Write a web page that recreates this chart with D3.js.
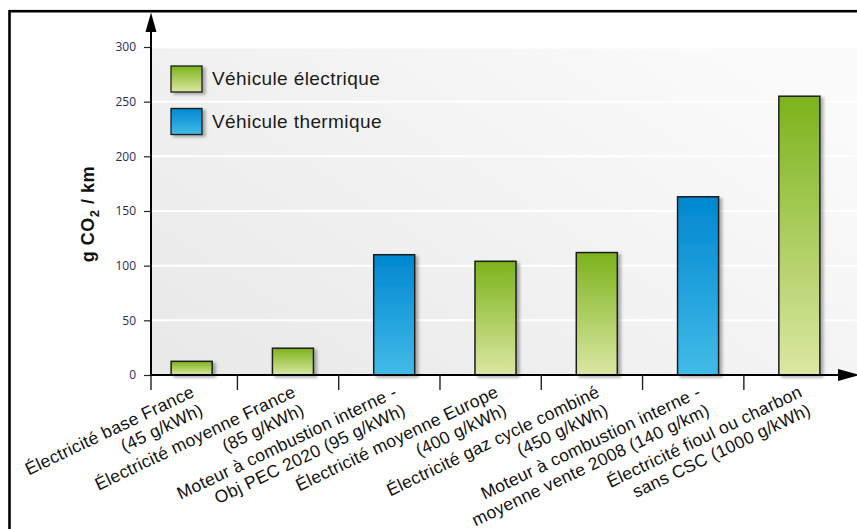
<!DOCTYPE html>
<html><head><meta charset="utf-8">
<script src="https://cdn.jsdelivr.net/npm/d3@7"></script>
<style>html,body{margin:0;padding:0;background:#fff;}svg{display:block;}</style>
</head><body>
<script>
const labelLine1 = ["Électricité base France","Électricité moyenne France","Moteur à combustion interne -","Électricité moyenne Europe","Électricité gaz cycle combiné","Moteur à combustion interne -","Électricité fioul ou charbon"];
const labelLine2 = ["(45 g/kWh)","(85 g/kWh)","Obj PEC 2020 (95 g/kWh)","(400 g/kWh)","(450 g/kWh)","moyenne vente 2008 (140 g/km)","sans CSC (1000 g/kWh)"];
const values = [12.5, 24.5, 110, 104, 112, 163, 255];
const types = ["elec","elec","therm","elec","elec","therm","elec"];
const yTicks = [0,50,100,150,200,250,300];
const legendLabels = ["Véhicule électrique","Véhicule thermique"];
const legendTypes = ["elec","therm"];

const W=857,H=529;
const svg=d3.select("body").append("svg").attr("width",W).attr("height",H);
const defs=svg.append("defs");
const gG=defs.append("linearGradient").attr("id","gElec").attr("x1",0).attr("y1",0).attr("x2",0).attr("y2",1);
gG.append("stop").attr("offset","0%").attr("stop-color","#7cb31c");
gG.append("stop").attr("offset","100%").attr("stop-color","#dbe7a3");
const gB=defs.append("linearGradient").attr("id","gTherm").attr("x1",0).attr("y1",0).attr("x2",0).attr("y2",1);
gB.append("stop").attr("offset","0%").attr("stop-color","#0087d0");
gB.append("stop").attr("offset","100%").attr("stop-color","#42bbe8");
const gBg=defs.append("linearGradient").attr("id","gBg").attr("x1",0).attr("y1",1).attr("x2",1).attr("y2",0.3);
gBg.append("stop").attr("offset","0%").attr("stop-color","#e8e8e8");
gBg.append("stop").attr("offset","100%").attr("stop-color","#fafafa");
const f=defs.append("filter").attr("id","sh").attr("x","-20%").attr("y","-20%").attr("width","150%").attr("height","150%");
f.append("feDropShadow").attr("dx",3).attr("dy",2).attr("stdDeviation",1.8).attr("flood-color","#000").attr("flood-opacity",0.3);
const fill=t=>t==="elec"?"url(#gElec)":"url(#gTherm)";

const y=d3.scaleLinear().domain([0,300]).range([375,47]);
const x=d3.scaleBand().domain(labelLine1.map((d,i)=>i)).range([141,850]).paddingInner(0.595).paddingOuter(0.2975);
const axX=151;

// frame
svg.append("rect").attr("x",9.5).attr("y",11.2).attr("width",900).attr("height",600).attr("fill","none").attr("stroke","#000").attr("stroke-width",2.6);

// plot background
svg.append("rect").attr("x",axX).attr("y",y(300)+1.5).attr("width",W-axX).attr("height",y(0)-y(300)-1.5).attr("fill","url(#gBg)");
// gridlines
svg.append("g").selectAll("line").data(yTicks.filter(d=>d>0&&d<300)).join("line")
  .attr("x1",axX).attr("x2",W).attr("y1",d=>y(d)).attr("y2",d=>y(d)).attr("stroke","#fff").attr("stroke-width",2);

// y axis ticks & labels
const yAxis=d3.axisLeft(y).tickValues(yTicks).tickSize(7).tickPadding(8);
const ya=svg.append("g").attr("transform",`translate(${axX},0)`).call(yAxis);
ya.select(".domain").remove();
ya.selectAll(".tick line").attr("stroke","#222").attr("stroke-width",1.2);
ya.selectAll(".tick text").attr("font-family","'Open Sans',sans-serif").attr("font-size",12).attr("fill","#2b2d55");

// bars
svg.append("g").selectAll("rect").data(values).join("rect")
  .attr("x",(d,i)=>x(i)).attr("width",x.bandwidth())
  .attr("y",d=>y(d)).attr("height",d=>y(0)-y(d))
  .attr("fill",(d,i)=>fill(types[i])).attr("stroke","#1e1e1e").attr("stroke-width",1.5)
  .attr("filter","url(#sh)");

// x axis line + arrow
svg.append("line").attr("x1",axX).attr("x2",842).attr("y1",y(0)).attr("y2",y(0)).attr("stroke","#000").attr("stroke-width",2);
svg.append("path").attr("d",`M838,${y(0)-6} L860,${y(0)} L838,${y(0)+6} Z`).attr("fill","#000");
// x ticks
const xt=[axX].concat(labelLine1.slice(1).map((d,i)=>x(i+1)-35));
svg.append("g").selectAll("line").data(xt).join("line")
  .attr("x1",d=>d).attr("x2",d=>d).attr("y1",y(0)).attr("y2",y(0)+15).attr("stroke","#222").attr("stroke-width",1.4);

// y axis line + arrow
svg.append("line").attr("x1",axX).attr("x2",axX).attr("y1",y(0)+1).attr("y2",28).attr("stroke","#000").attr("stroke-width",2);
svg.append("path").attr("d",`M${axX-5.5},32 L${axX},12.5 L${axX+5.5},32 Z`).attr("fill","#000");

// x labels
const lab=svg.append("g").selectAll("text").data(labelLine1).join("text")
  .attr("transform",(d,i)=>`translate(${x(i)+x.bandwidth()/2+4},396) rotate(-25.5)`)
  .attr("text-anchor","end").attr("font-family","'Liberation Sans',Arial,sans-serif").attr("font-size",17.5).attr("letter-spacing",0.3).attr("fill","#111");
lab.append("tspan").attr("x",0).attr("dy",0).text(d=>d);
lab.append("tspan").attr("x",0).attr("dy","1.15em").text((d,i)=>labelLine2[i]);

// y label
const yl=svg.append("text").attr("transform","translate(94,214) rotate(-90)").attr("text-anchor","middle")
  .attr("font-family","'Liberation Sans',Arial,sans-serif").attr("font-weight","bold").attr("font-size",18).attr("letter-spacing",0.5).attr("fill","#111");
yl.append("tspan").text("g CO");
yl.append("tspan").attr("font-size",13).attr("dy",5).text("2");
yl.append("tspan").attr("dy",-5).text(" / km");

// legend
const lg=svg.append("g").selectAll("g").data(legendLabels).join("g")
  .attr("transform",(d,i)=>`translate(171,${66+i*42.5})`);
lg.append("rect").attr("width",31).attr("height",26).attr("fill",(d,i)=>fill(legendTypes[i])).attr("stroke","#1e1e1e").attr("stroke-width",1.3).attr("filter","url(#sh)");
lg.append("text").attr("x",41).attr("y",19).text(d=>d).attr("font-family","'Liberation Sans',Arial,sans-serif").attr("font-size",19).attr("letter-spacing",0.4).attr("fill","#1a1a1a");
</script>
</body></html>
